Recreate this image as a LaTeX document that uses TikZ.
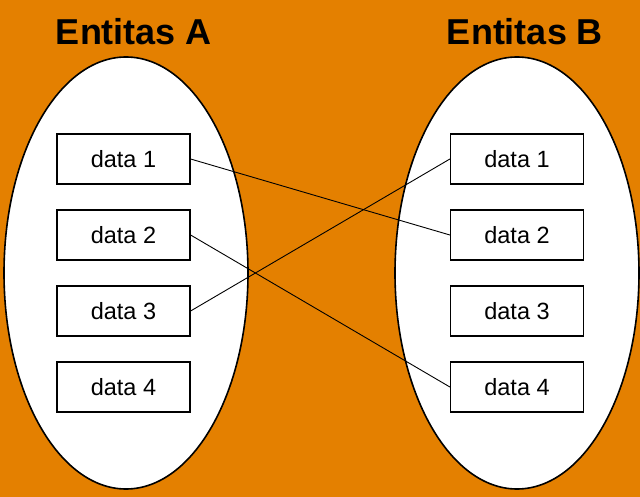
\documentclass[tikz,border=0pt]{standalone}
\usepackage{fontspec}
\setmainfont{Liberation Sans}
\usepackage{tikz}
\usetikzlibrary{shapes.geometric,positioning}
\definecolor{bgorange}{HTML}{E48000}
\tikzset{
  entity set/.style={
    draw=black, fill=white, shape=ellipse, line width=1.6pt,
    minimum width=244pt, minimum height=432pt, inner sep=0pt
  },
  databox/.style={
    draw=black, fill=white, line width=1.2pt,
    minimum width=133pt, minimum height=50pt, inner sep=0pt,
    font=\fontsize{23.5pt}{25pt}\selectfont
  },
  entity title/.style={font=\fontsize{36pt}{38pt}\selectfont\bfseries},
  link/.style={draw=black, line width=0.9pt}
}

\begin{document}
\begin{tikzpicture}[x=1pt,y=-1pt]
  \fill[bgorange] (0,0) rectangle (640,497);
  \useasboundingbox (0,0) rectangle (640,497);
  % the two sets
  \node[entity set] (set-a) at (126,273) {};
  \node[entity set] (set-b) at (517,273) {};
  \node[entity title] (title-a) at (134,32) {Entitas A};
  \node[entity title] (title-b) at (525,32) {Entitas B};
  \foreach \i/\y in {1/159,2/235,3/311,4/387} {
    \node[databox] (a-\i) at (123.5,\y) {data \i};
    \node[databox] (b-\i) at (517,\y) {data \i};
  }
  % relations
  \draw[link] (a-1.east) -- (b-2.west);
  \draw[link] (a-2.east) -- (b-4.west);
  \draw[link] (a-3.east) -- (b-1.west);
\end{tikzpicture}
\end{document}
